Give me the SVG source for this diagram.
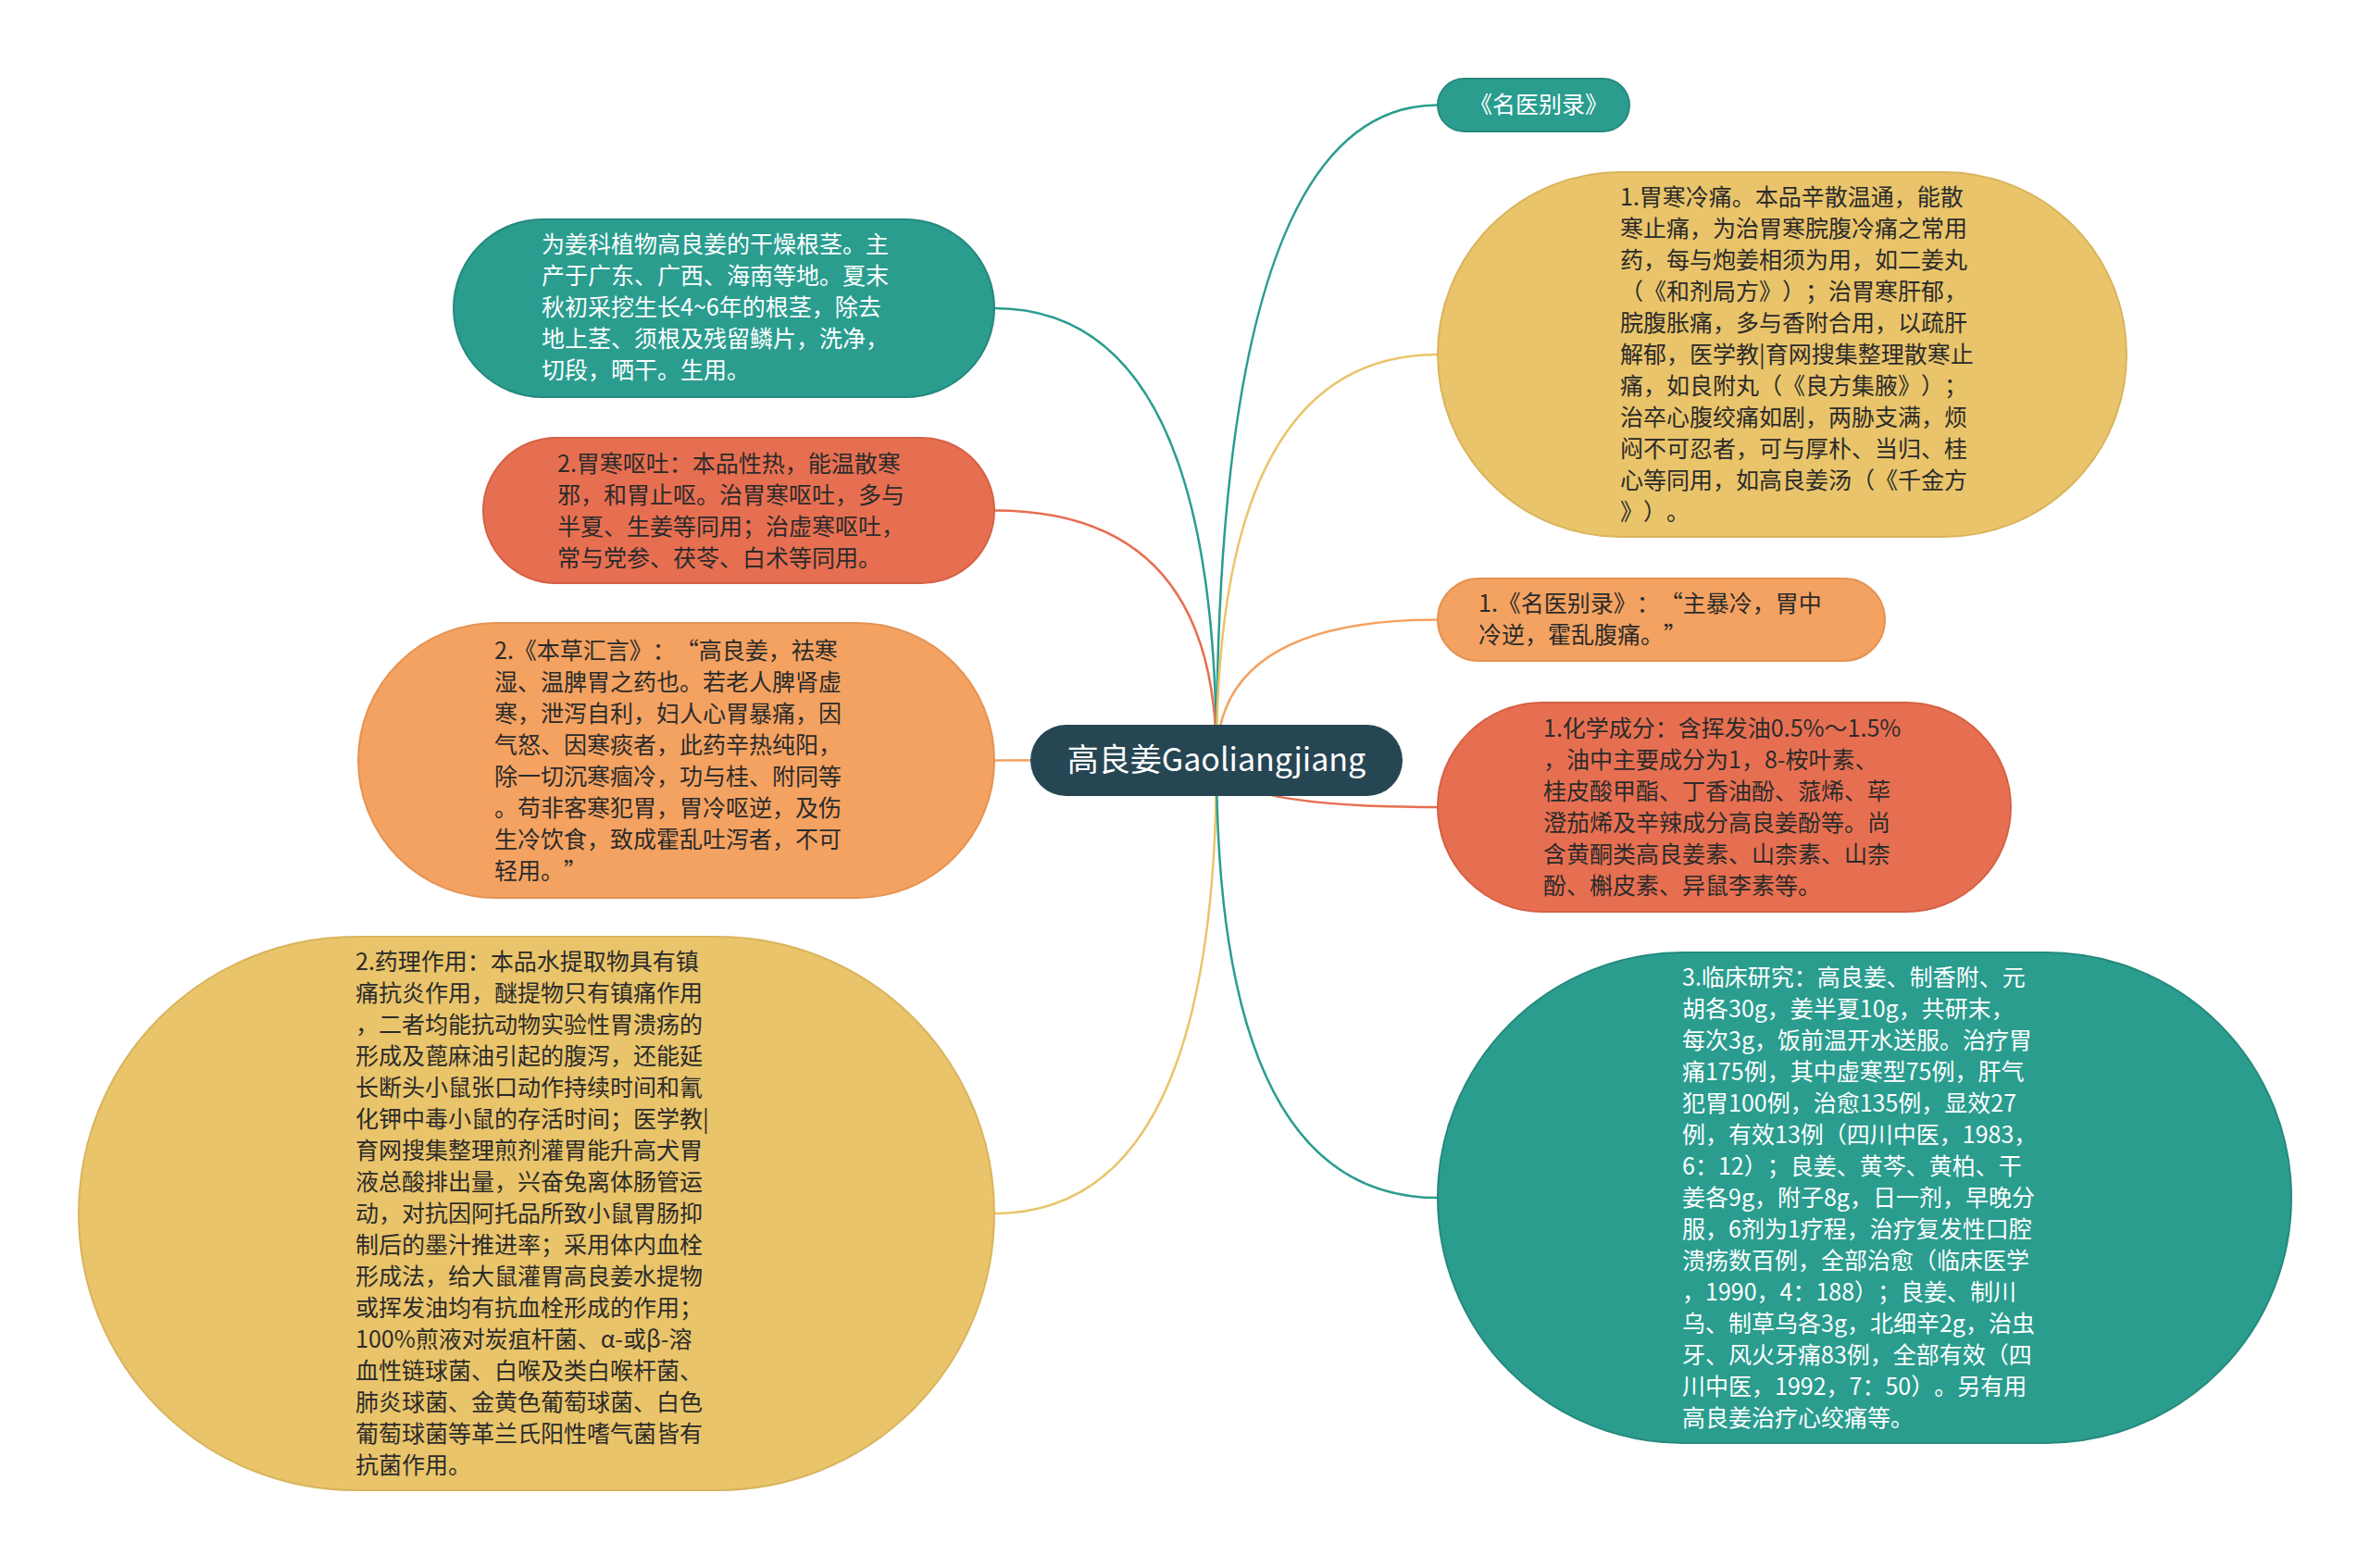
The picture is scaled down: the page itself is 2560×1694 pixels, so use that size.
<svg xmlns="http://www.w3.org/2000/svg" width="2560" height="1694" viewBox="0 0 2560 1694">
<style>
text{text-spacing-trim:space-all}
.t{font-family:"Noto Sans CJK SC","Noto Sans",sans-serif;font-size:25px;fill:#2b2b2b}
.w{fill:#ffffff}
.teal{fill:#2a9d8f;stroke:#25897d;stroke-width:2}
.yel{fill:#e9c46a;stroke:#d9b45c;stroke-width:2}
.ora{fill:#f4a261;stroke:#e49353;stroke-width:2}
.red{fill:#e76f51;stroke:#d46145;stroke-width:2}
.c{fill:none;stroke-width:2.5}
</style>
<rect width="2560" height="1694" fill="#ffffff"/>
<g id="connectors">
<path class="c" stroke="#2a9d8f" d="M1314,821 Q1314,333 1074,333"/>
<path class="c" stroke="#e76f51" d="M1314,821 Q1314,551.5 1074,551.5"/>
<path class="c" stroke="#f4a261" d="M1314,821 Q1314,821.5 1074,821.5"/>
<path class="c" stroke="#e9c46a" d="M1314,821 Q1314,1311 1074,1311"/>
<path class="c" stroke="#2a9d8f" d="M1314,821 Q1314,113.5 1553,113.5"/>
<path class="c" stroke="#e9c46a" d="M1314,821 Q1314,383 1553,383"/>
<path class="c" stroke="#f4a261" d="M1314,821 Q1314,669.5 1553,669.5"/>
<path class="c" stroke="#e76f51" d="M1314,821 Q1314,872 1553,872"/>
<path class="c" stroke="#2a9d8f" d="M1314,821 Q1314,1294 1553,1294"/>
</g>
<g id="center">
<rect x="1113" y="783" width="402" height="77" rx="38.5" fill="#264653"/>
<text x="1314" y="833" font-family="'Noto Sans CJK SC','Noto Sans',sans-serif" font-size="34" fill="#ffffff" text-anchor="middle">高良姜Gaoliangjiang</text>
</g>
<g id="nodeA">
<rect class="teal" x="490" y="237" width="584" height="192" rx="96"/>
<text class="t w" x="585"><tspan x="585" y="273">为姜科植物高良姜的干燥根茎。主</tspan><tspan x="585" y="307">产于广东、广西、海南等地。夏末</tspan><tspan x="585" y="341">秋初采挖生长4~6年的根茎，除去</tspan><tspan x="585" y="375">地上茎、须根及残留鳞片，洗净，</tspan><tspan x="585" y="409">切段，晒干。生用。</tspan></text>
</g>
<g id="nodeB">
<rect class="red" x="522" y="473" width="552" height="157" rx="78.5"/>
<text class="t" x="602"><tspan x="602" y="510">2.胃寒呕吐：本品性热，能温散寒</tspan><tspan x="602" y="544">邪，和胃止呕。治胃寒呕吐，多与</tspan><tspan x="602" y="578">半夏、生姜等同用；治虚寒呕吐，</tspan><tspan x="602" y="612">常与党参、茯苓、白术等同用。</tspan></text>
</g>
<g id="nodeC">
<rect class="ora" x="387" y="673" width="687" height="297" rx="148.5"/>
<text class="t" x="534"><tspan x="534" y="712">2.《本草汇言》：“高良姜，祛寒</tspan><tspan x="534" y="746">湿、温脾胃之药也。若老人脾肾虚</tspan><tspan x="534" y="780">寒，泄泻自利，妇人心胃暴痛，因</tspan><tspan x="534" y="814">气怒、因寒痰者，此药辛热纯阳，</tspan><tspan x="534" y="848">除一切沉寒痼冷，功与桂、附同等</tspan><tspan x="534" y="882">。苟非客寒犯胃，胃冷呕逆，及伤</tspan><tspan x="534" y="916">生冷饮食，致成霍乱吐泻者，不可</tspan><tspan x="534" y="950">轻用。”</tspan></text>
</g>
<g id="nodeD">
<rect class="yel" x="85" y="1012" width="989" height="598" rx="299"/>
<text class="t" x="384"><tspan x="384" y="1048">2.药理作用：本品水提取物具有镇</tspan><tspan x="384" y="1082">痛抗炎作用，醚提物只有镇痛作用</tspan><tspan x="384" y="1116">，二者均能抗动物实验性胃溃疡的</tspan><tspan x="384" y="1150">形成及蓖麻油引起的腹泻，还能延</tspan><tspan x="384" y="1184">长断头小鼠张口动作持续时间和氰</tspan><tspan x="384" y="1218">化钾中毒小鼠的存活时间；医学教|</tspan><tspan x="384" y="1252">育网搜集整理煎剂灌胃能升高犬胃</tspan><tspan x="384" y="1286">液总酸排出量，兴奋兔离体肠管运</tspan><tspan x="384" y="1320">动，对抗因阿托品所致小鼠胃肠抑</tspan><tspan x="384" y="1354">制后的墨汁推进率；采用体内血栓</tspan><tspan x="384" y="1388">形成法，给大鼠灌胃高良姜水提物</tspan><tspan x="384" y="1422">或挥发油均有抗血栓形成的作用；</tspan><tspan x="384" y="1456">100%煎液对炭疽杆菌、α-或β-溶</tspan><tspan x="384" y="1490">血性链球菌、白喉及类白喉杆菌、</tspan><tspan x="384" y="1524">肺炎球菌、金黄色葡萄球菌、白色</tspan><tspan x="384" y="1558">葡萄球菌等革兰氏阳性嗜气菌皆有</tspan><tspan x="384" y="1592">抗菌作用。</tspan></text>
</g>
<g id="nodeE">
<rect class="teal" x="1553" y="85" width="207" height="57" rx="28.5"/>
<text class="t w" x="1587" y="122">《名医别录》</text>
</g>
<g id="nodeF">
<rect class="yel" x="1553" y="186" width="744" height="394" rx="197"/>
<text class="t" x="1750"><tspan x="1750" y="222">1.胃寒冷痛。本品辛散温通，能散</tspan><tspan x="1750" y="256">寒止痛，为治胃寒脘腹冷痛之常用</tspan><tspan x="1750" y="290">药，每与炮姜相须为用，如二姜丸</tspan><tspan x="1750" y="324">（《和剂局方》）；治胃寒肝郁，</tspan><tspan x="1750" y="358">脘腹胀痛，多与香附合用，以疏肝</tspan><tspan x="1750" y="392">解郁，医学教|育网搜集整理散寒止</tspan><tspan x="1750" y="426">痛，如良附丸（《良方集腋》）；</tspan><tspan x="1750" y="460">治卒心腹绞痛如剧，两胁支满，烦</tspan><tspan x="1750" y="494">闷不可忍者，可与厚朴、当归、桂</tspan><tspan x="1750" y="528">心等同用，如高良姜汤（《千金方</tspan><tspan x="1750" y="562">》）。</tspan></text>
</g>
<g id="nodeG">
<rect class="ora" x="1553" y="625" width="483" height="89" rx="44.5"/>
<text class="t" x="1597"><tspan x="1597" y="661">1.《名医别录》：“主暴冷，胃中</tspan><tspan x="1597" y="695">冷逆，霍乱腹痛。”</tspan></text>
</g>
<g id="nodeH">
<rect class="red" x="1553" y="759" width="619" height="226" rx="113"/>
<text class="t" x="1667"><tspan x="1667" y="796">1.化学成分：含挥发油0.5%～1.5%</tspan><tspan x="1667" y="830">，油中主要成分为1，8-桉叶素、</tspan><tspan x="1667" y="864">桂皮酸甲酯、丁香油酚、蒎烯、荜</tspan><tspan x="1667" y="898">澄茄烯及辛辣成分高良姜酚等。尚</tspan><tspan x="1667" y="932">含黄酮类高良姜素、山柰素、山柰</tspan><tspan x="1667" y="966">酚、槲皮素、异鼠李素等。</tspan></text>
</g>
<g id="nodeI">
<rect class="teal" x="1553" y="1029" width="922" height="530" rx="265"/>
<text class="t w" x="1817"><tspan x="1817" y="1065">3.临床研究：高良姜、制香附、元</tspan><tspan x="1817" y="1099">胡各30g，姜半夏10g，共研末，</tspan><tspan x="1817" y="1133">每次3g，饭前温开水送服。治疗胃</tspan><tspan x="1817" y="1167">痛175例，其中虚寒型75例，肝气</tspan><tspan x="1817" y="1201">犯胃100例，治愈135例，显效27</tspan><tspan x="1817" y="1235">例，有效13例（四川中医，1983，</tspan><tspan x="1817" y="1269">6：12）；良姜、黄芩、黄柏、干</tspan><tspan x="1817" y="1303">姜各9g，附子8g，日一剂，早晚分</tspan><tspan x="1817" y="1337">服，6剂为1疗程，治疗复发性口腔</tspan><tspan x="1817" y="1371">溃疡数百例，全部治愈（临床医学</tspan><tspan x="1817" y="1405">，1990，4：188）；良姜、制川</tspan><tspan x="1817" y="1439">乌、制草乌各3g，北细辛2g，治虫</tspan><tspan x="1817" y="1473">牙、风火牙痛83例，全部有效（四</tspan><tspan x="1817" y="1507">川中医，1992，7：50）。另有用</tspan><tspan x="1817" y="1541">高良姜治疗心绞痛等。</tspan></text>
</g>
</svg>
